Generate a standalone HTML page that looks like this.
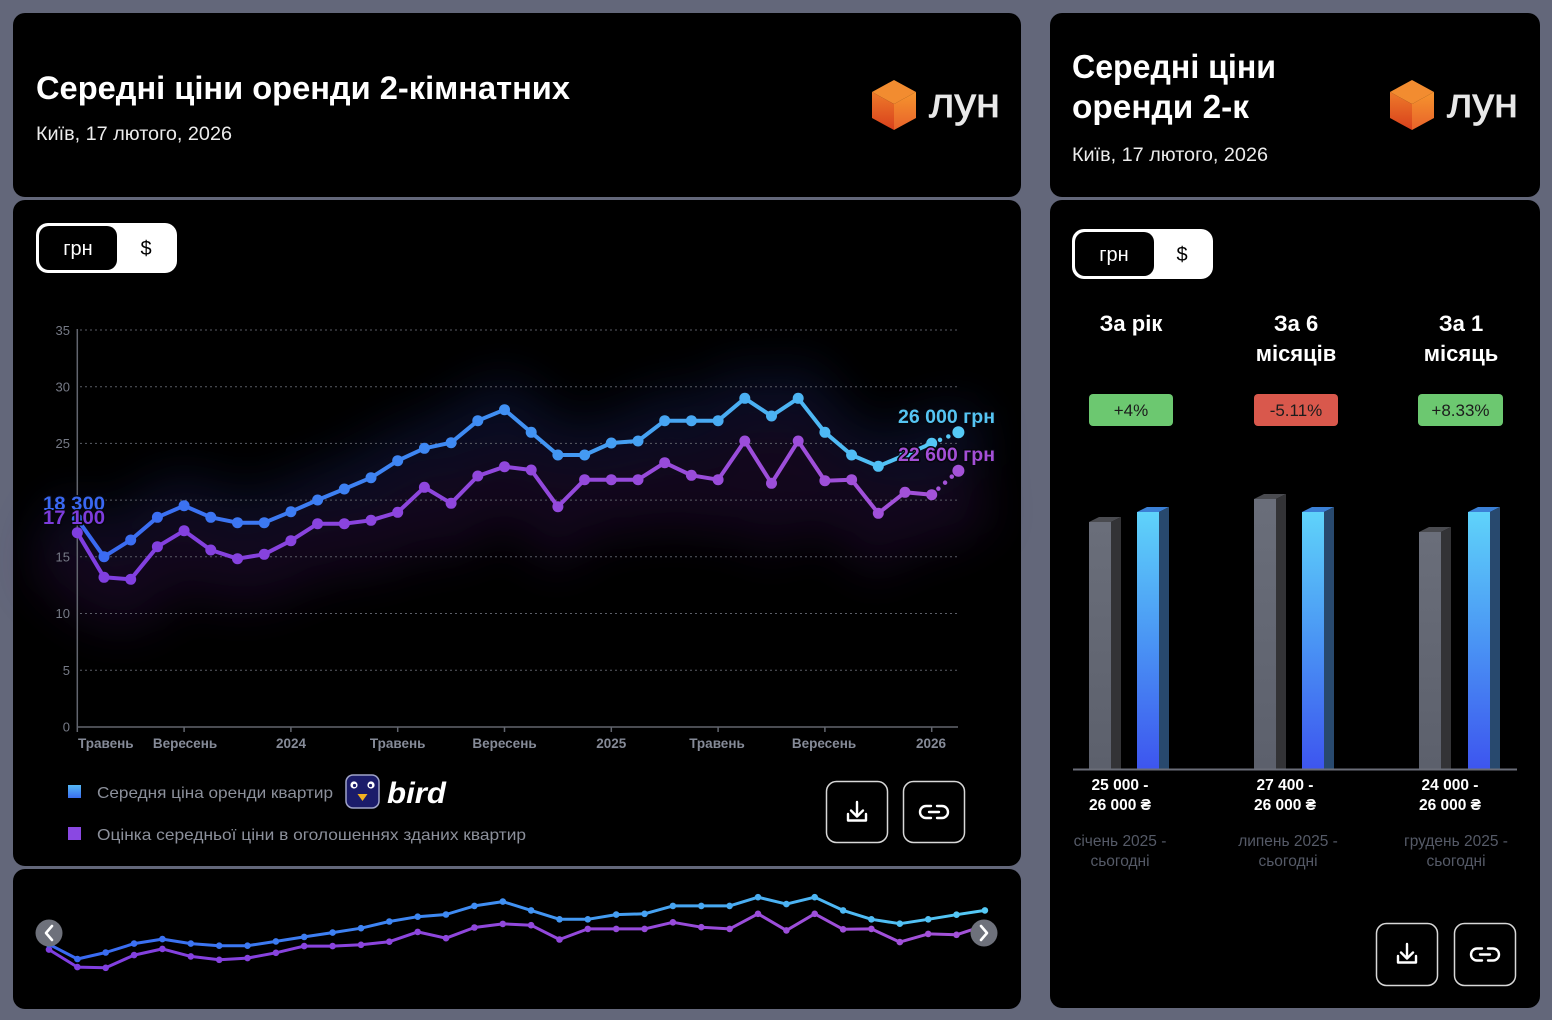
<!DOCTYPE html>
<html><head><meta charset="utf-8"><style>
html,body{margin:0;padding:0;background:#63677a;}
body{width:1552px;height:1020px;overflow:hidden;position:relative;font-family:"Liberation Sans","DejaVu Sans",sans-serif;}
svg{position:absolute;left:0;top:0;}
text{font-family:"Liberation Sans","DejaVu Sans",sans-serif;}
</style></head><body>
<svg width="1552" height="1020" viewBox="0 0 1552 1020" xmlns="http://www.w3.org/2000/svg">
<defs>
<linearGradient id="gb" gradientUnits="userSpaceOnUse" x1="77" y1="0" x2="958" y2="0">
<stop offset="0" stop-color="#3a68f2"/><stop offset="0.45" stop-color="#3f8cf3"/><stop offset="0.75" stop-color="#4aaef2"/><stop offset="1" stop-color="#55caf6"/></linearGradient>
<linearGradient id="gp" gradientUnits="userSpaceOnUse" x1="77" y1="0" x2="958" y2="0">
<stop offset="0" stop-color="#7f3ee0"/><stop offset="1" stop-color="#a452d8"/></linearGradient>
<linearGradient id="gbm" gradientUnits="userSpaceOnUse" x1="49" y1="0" x2="985" y2="0">
<stop offset="0" stop-color="#3a68f2"/><stop offset="0.45" stop-color="#3f8cf3"/><stop offset="0.75" stop-color="#4aaef2"/><stop offset="1" stop-color="#55caf6"/></linearGradient>
<linearGradient id="gpm" gradientUnits="userSpaceOnUse" x1="49" y1="0" x2="985" y2="0">
<stop offset="0" stop-color="#7f3ee0"/><stop offset="1" stop-color="#a452d8"/></linearGradient>
<linearGradient id="barB" x1="0" y1="0" x2="0" y2="1"><stop offset="0" stop-color="#5fd3fa"/><stop offset="0.5" stop-color="#4a95f4"/><stop offset="1" stop-color="#3d55ef"/></linearGradient>
<linearGradient id="barG" x1="0" y1="0" x2="0" y2="1"><stop offset="0" stop-color="#6a6e7a"/><stop offset="1" stop-color="#5c606c"/></linearGradient>
<linearGradient id="legB" x1="0" y1="0" x2="0" y2="1"><stop offset="0" stop-color="#55b8f5"/><stop offset="1" stop-color="#3a6ef0"/></linearGradient>
<linearGradient id="cubeL" x1="0" y1="0" x2="0" y2="1"><stop offset="0" stop-color="#ee7a2a"/><stop offset="1" stop-color="#d8401c"/></linearGradient>
<linearGradient id="cubeR" x1="0" y1="0" x2="0" y2="1"><stop offset="0" stop-color="#f6952e"/><stop offset="1" stop-color="#e8622a"/></linearGradient>
<filter id="blur" x="-20%" y="-100%" width="140%" height="300%"><feGaussianBlur stdDeviation="24"/></filter>
</defs>

<!-- panels -->
<rect x="13" y="13" width="1008" height="184" rx="12" fill="#000"/>
<rect x="13" y="200" width="1008" height="666" rx="12" fill="#000"/>
<rect x="13" y="869" width="1008" height="140" rx="12" fill="#000"/>
<rect x="1050" y="13" width="490" height="184" rx="12" fill="#000"/>
<rect x="1050" y="200" width="490" height="808" rx="12" fill="#000"/>

<!-- left header -->
<text x="36" y="99" font-size="32" font-weight="bold" fill="#fff" textLength="534" lengthAdjust="spacingAndGlyphs">Середні ціни оренди 2-кімнатних</text>
<text x="36" y="140" font-size="19" fill="#ececec" textLength="196" lengthAdjust="spacingAndGlyphs">Київ, 17 лютого, 2026</text>
<g>
<polygon points="894,80 916,92 894,104 872,92" fill="#f28c30"/>
<polygon points="872,92 894,104 894,130 872,118" fill="url(#cubeL)"/>
<polygon points="894,104 916,92 916,118 894,130" fill="url(#cubeR)"/>
</g>
<text x="929" y="117" font-size="42" fill="#e8e8e8" stroke="#e8e8e8" stroke-width="0.8" textLength="71" lengthAdjust="spacingAndGlyphs">лун</text>

<!-- right header -->
<text x="1072" y="78" font-size="33" font-weight="bold" fill="#fff" textLength="204" lengthAdjust="spacingAndGlyphs">Середні ціни</text>
<text x="1072" y="118" font-size="33" font-weight="bold" fill="#fff" textLength="177" lengthAdjust="spacingAndGlyphs">оренди 2-к</text>
<text x="1072" y="161" font-size="19" fill="#ececec" textLength="196" lengthAdjust="spacingAndGlyphs">Київ, 17 лютого, 2026</text>
<g>
<polygon points="1412,80 1434,92 1412,104 1390,92" fill="#f28c30"/>
<polygon points="1390,92 1412,104 1412,130 1390,118" fill="url(#cubeL)"/>
<polygon points="1412,104 1434,92 1434,118 1412,130" fill="url(#cubeR)"/>
</g>
<text x="1447" y="117" font-size="42" fill="#e8e8e8" stroke="#e8e8e8" stroke-width="0.8" textLength="71" lengthAdjust="spacingAndGlyphs">лун</text>

<!-- toggles -->
<rect x="36" y="223" width="141" height="50" rx="12" fill="#fff"/>
<rect x="39" y="226" width="78" height="44" rx="10" fill="#000"/>
<text x="78" y="255" font-size="20" fill="#fff" text-anchor="middle">грн</text>
<text x="146" y="255" font-size="20" fill="#000" text-anchor="middle">$</text>
<rect x="1072" y="229" width="141" height="50" rx="12" fill="#fff"/>
<rect x="1075" y="232" width="79" height="44" rx="10" fill="#000"/>
<text x="1114" y="261" font-size="20" fill="#fff" text-anchor="middle">грн</text>
<text x="1182" y="261" font-size="20" fill="#000" text-anchor="middle">$</text>

<!-- glow -->
<g filter="url(#blur)" fill="none" opacity="0.32">
<polyline stroke="#1c2a70" stroke-width="60" points="50,519 104,556.7 130.7,540 157.4,517.3 184.1,505.7 210.8,517.3 237.5,522.7 264.2,522.7 290.9,511.7 317.6,500 344.3,489 371,477.7 397.7,460.7 424.4,448.3 451.1,442.7 477.8,420.7 504.5,409.7 531.2,432.3 557.9,455 584.6,455 611.3,443 638,441 664.7,420.7 691.4,420.7 718.1,420.7 744.8,398.3 771.5,416 798.2,398.3 824.9,432.3 851.6,455 878.3,466.3 905,455 931.7,443.3 980,432"/>
<polyline stroke="#3a1458" stroke-width="70" points="50,545 104,590 130.7,592 157.4,560 184.1,545 210.8,562 237.5,570 264.2,566 290.9,555 317.6,540 344.3,540 371,536 397.7,528 424.4,505 451.1,518 477.8,495 504.5,486 531.2,490 557.9,522 584.6,498 611.3,498 638,498 664.7,482 691.4,494 718.1,498 744.8,465 771.5,502 798.2,465 824.9,500 851.6,498 878.3,530 905,510 931.7,512 980,490"/>
</g>

<!-- grid -->
<g stroke="#5a5d66" stroke-width="1" stroke-dasharray="2 3">
<line x1="80" y1="330" x2="957" y2="330"/>
<line x1="80" y1="386.7" x2="957" y2="386.7"/>
<line x1="80" y1="443.4" x2="957" y2="443.4"/>
<line x1="80" y1="500.1" x2="957" y2="500.1"/>
<line x1="80" y1="556.8" x2="957" y2="556.8"/>
<line x1="80" y1="613.5" x2="957" y2="613.5"/>
<line x1="80" y1="670.2" x2="957" y2="670.2"/>
</g>
<line x1="77.3" y1="329" x2="77.3" y2="727" stroke="#62656e" stroke-width="1.5"/>
<line x1="77" y1="727" x2="958" y2="727" stroke="#62656e" stroke-width="1.5"/>
<g stroke="#62656e" stroke-width="1.5">
<line x1="77.3" y1="727" x2="77.3" y2="732"/><line x1="184.1" y1="727" x2="184.1" y2="732"/><line x1="290.9" y1="727" x2="290.9" y2="732"/><line x1="397.7" y1="727" x2="397.7" y2="732"/><line x1="504.5" y1="727" x2="504.5" y2="732"/><line x1="611.3" y1="727" x2="611.3" y2="732"/><line x1="718.1" y1="727" x2="718.1" y2="732"/><line x1="824.9" y1="727" x2="824.9" y2="732"/><line x1="931.7" y1="727" x2="931.7" y2="732"/>
</g>
<g font-size="13" fill="#767a86" text-anchor="end">
<text x="70" y="335">35</text><text x="70" y="391.5">30</text><text x="70" y="448">25</text><text x="70" y="561.5">15</text><text x="70" y="618">10</text><text x="70" y="675">5</text><text x="70" y="731.5">0</text>
</g>
<g font-size="13.5" font-weight="bold" fill="#858a97" text-anchor="middle">
<text x="78" y="748" text-anchor="start">Травень</text>
<text x="185" y="748">Вересень</text>
<text x="291" y="748">2024</text>
<text x="397.7" y="748">Травень</text>
<text x="504.5" y="748">Вересень</text>
<text x="611.3" y="748">2025</text>
<text x="717" y="748">Травень</text>
<text x="824" y="748">Вересень</text>
<text x="931" y="748">2026</text>
</g>

<!-- main lines -->
<g fill="none" stroke-width="4" stroke-linejoin="round" stroke-linecap="round">
<polyline stroke="url(#gp)" points="77.3,532.7 104,577.3 130.7,579.3 157.4,546.7 184.1,530.7 210.8,550 237.5,558.7 264.2,554.3 290.9,540.7 317.6,523.7 344.3,523.7 371,520.3 397.7,512.3 424.4,487.3 451.1,503.3 477.8,476 504.5,466.7 531.2,470 557.9,506.7 584.6,479.7 611.3,479.7 638,479.7 664.7,462.7 691.4,475.3 718.1,479.7 744.8,441 771.5,483.3 798.2,441 824.9,480.7 851.6,479.7 878.3,513.3 905,492.3 931.7,494.7"/>
<polyline stroke="url(#gb)" points="77.3,519.1 104,556.7 130.7,540 157.4,517.3 184.1,505.7 210.8,517.3 237.5,522.7 264.2,522.7 290.9,511.7 317.6,500 344.3,489 371,477.7 397.7,460.7 424.4,448.3 451.1,442.7 477.8,420.7 504.5,409.7 531.2,432.3 557.9,455 584.6,455 611.3,443 638,441 664.7,420.7 691.4,420.7 718.1,420.7 744.8,398.3 771.5,416 798.2,398.3 824.9,432.3 851.6,455 878.3,466.3 905,455 931.7,443.3"/>
<line x1="931.7" y1="494.7" x2="958.4" y2="470.7" stroke="url(#gp)" stroke-width="4.5" stroke-dasharray="0 9"/>
<line x1="931.7" y1="443.3" x2="958.4" y2="432.3" stroke="url(#gb)" stroke-width="4.5" stroke-dasharray="0 9"/>
</g>
<g fill="url(#gp)">
<circle cx="77.3" cy="532.7" r="5.5"/><circle cx="104" cy="577.3" r="5.5"/><circle cx="130.7" cy="579.3" r="5.5"/><circle cx="157.4" cy="546.7" r="5.5"/><circle cx="184.1" cy="530.7" r="5.5"/><circle cx="210.8" cy="550" r="5.5"/><circle cx="237.5" cy="558.7" r="5.5"/><circle cx="264.2" cy="554.3" r="5.5"/><circle cx="290.9" cy="540.7" r="5.5"/><circle cx="317.6" cy="523.7" r="5.5"/><circle cx="344.3" cy="523.7" r="5.5"/><circle cx="371" cy="520.3" r="5.5"/><circle cx="397.7" cy="512.3" r="5.5"/><circle cx="424.4" cy="487.3" r="5.5"/><circle cx="451.1" cy="503.3" r="5.5"/><circle cx="477.8" cy="476" r="5.5"/><circle cx="504.5" cy="466.7" r="5.5"/><circle cx="531.2" cy="470" r="5.5"/><circle cx="557.9" cy="506.7" r="5.5"/><circle cx="584.6" cy="479.7" r="5.5"/><circle cx="611.3" cy="479.7" r="5.5"/><circle cx="638" cy="479.7" r="5.5"/><circle cx="664.7" cy="462.7" r="5.5"/><circle cx="691.4" cy="475.3" r="5.5"/><circle cx="718.1" cy="479.7" r="5.5"/><circle cx="744.8" cy="441" r="5.5"/><circle cx="771.5" cy="483.3" r="5.5"/><circle cx="798.2" cy="441" r="5.5"/><circle cx="824.9" cy="480.7" r="5.5"/><circle cx="851.6" cy="479.7" r="5.5"/><circle cx="878.3" cy="513.3" r="5.5"/><circle cx="905" cy="492.3" r="5.5"/><circle cx="931.7" cy="494.7" r="5.5"/><circle cx="958.4" cy="470.7" r="6"/>
</g>
<g fill="url(#gb)">
<circle cx="77.3" cy="519.1" r="5.5"/><circle cx="104" cy="556.7" r="5.5"/><circle cx="130.7" cy="540" r="5.5"/><circle cx="157.4" cy="517.3" r="5.5"/><circle cx="184.1" cy="505.7" r="5.5"/><circle cx="210.8" cy="517.3" r="5.5"/><circle cx="237.5" cy="522.7" r="5.5"/><circle cx="264.2" cy="522.7" r="5.5"/><circle cx="290.9" cy="511.7" r="5.5"/><circle cx="317.6" cy="500" r="5.5"/><circle cx="344.3" cy="489" r="5.5"/><circle cx="371" cy="477.7" r="5.5"/><circle cx="397.7" cy="460.7" r="5.5"/><circle cx="424.4" cy="448.3" r="5.5"/><circle cx="451.1" cy="442.7" r="5.5"/><circle cx="477.8" cy="420.7" r="5.5"/><circle cx="504.5" cy="409.7" r="5.5"/><circle cx="531.2" cy="432.3" r="5.5"/><circle cx="557.9" cy="455" r="5.5"/><circle cx="584.6" cy="455" r="5.5"/><circle cx="611.3" cy="443" r="5.5"/><circle cx="638" cy="441" r="5.5"/><circle cx="664.7" cy="420.7" r="5.5"/><circle cx="691.4" cy="420.7" r="5.5"/><circle cx="718.1" cy="420.7" r="5.5"/><circle cx="744.8" cy="398.3" r="5.5"/><circle cx="771.5" cy="416" r="5.5"/><circle cx="798.2" cy="398.3" r="5.5"/><circle cx="824.9" cy="432.3" r="5.5"/><circle cx="851.6" cy="455" r="5.5"/><circle cx="878.3" cy="466.3" r="5.5"/><circle cx="905" cy="455" r="5.5"/><circle cx="931.7" cy="443.3" r="5.5"/><circle cx="958.4" cy="432.3" r="6"/>
</g>

<!-- value labels -->
<g font-size="19" font-weight="bold" stroke="#05060d" stroke-width="3" paint-order="stroke" stroke-linejoin="round">
<text x="43" y="510" fill="#3a68f2" textLength="62" lengthAdjust="spacingAndGlyphs">18 300</text>
<text x="43" y="524" fill="#7d3cdc" textLength="62" lengthAdjust="spacingAndGlyphs">17 100</text>
<text x="898" y="423" fill="#55c4f2" textLength="97" lengthAdjust="spacingAndGlyphs">26 000 грн</text>
<text x="898" y="461" fill="#a44fd6" textLength="97" lengthAdjust="spacingAndGlyphs">22 600 грн</text>
</g>

<!-- legend -->
<rect x="68" y="785" width="13" height="13" fill="url(#legB)"/>
<text x="97" y="798" font-size="16" fill="#8c909b" textLength="236" lengthAdjust="spacingAndGlyphs">Середня ціна оренди квартир</text>
<rect x="68" y="827" width="13" height="13" fill="#8a48e2"/>
<text x="97" y="840" font-size="16" fill="#8c909b" textLength="429" lengthAdjust="spacingAndGlyphs">Оцінка середньої ціни в оголошеннях зданих квартир</text>
<rect x="346" y="775" width="33" height="33" rx="7" fill="#1b1c6a" stroke="#a0a4c8" stroke-width="1.5"/>
<circle cx="354" cy="785" r="3.6" fill="#fff"/><circle cx="371" cy="785" r="3.6" fill="#fff"/>
<circle cx="354.5" cy="785.5" r="1.6" fill="#1b1c6a"/><circle cx="370.5" cy="785.5" r="1.6" fill="#1b1c6a"/>
<polygon points="357.5,794 367.5,794 362.5,801" fill="#f2b220"/>
<text x="387" y="803" font-size="30" font-weight="bold" font-style="italic" fill="#fff" textLength="59" lengthAdjust="spacingAndGlyphs">bird</text>

<!-- buttons -->
<g fill="none" stroke="#d8d8d8" stroke-width="1.5">
<rect x="826.5" y="781.5" width="61" height="61" rx="10"/>
<rect x="903.5" y="781.5" width="61" height="61" rx="10"/>
<rect x="1376.5" y="923.5" width="61" height="62" rx="10"/>
<rect x="1454.5" y="923.5" width="61" height="62" rx="10"/>
</g>
<g fill="none" stroke="#fff" stroke-width="2.4" stroke-linecap="round" stroke-linejoin="round">
<path d="M857,802 V816 M851,810.5 L857,816.5 L863,810.5 M848,814 V820.5 H866 V814"/>
<path d="M931,806 h-5 a6,6 0 0 0 0,12 h5 M937,806 h5 a6,6 0 0 1 0,12 h-5 M929,812 h10"/>
<path d="M1407,944 V958 M1401,952.5 L1407,958.5 L1413,952.5 M1398,956 V962.5 H1416 V956"/>
<path d="M1482,948.5 h-5 a6,6 0 0 0 0,12 h5 M1488,948.5 h5 a6,6 0 0 1 0,12 h-5 M1480,954.5 h10"/>
</g>

<!-- mini chart -->
<g fill="none" stroke-width="3" stroke-linejoin="round">
<polyline stroke="url(#gpm)" points="49,949.6 77.4,967.1 105.7,967.8 134.1,955.1 162.4,948.9 190.8,956.4 219.2,959.8 247.5,958.1 275.9,952.8 304.2,946.1 332.6,946.1 361,944.8 389.3,941.7 417.7,931.9 446,938.2 474.4,927.5 502.8,923.9 531.1,925.2 559.5,939.5 587.8,928.9 616.2,928.9 644.6,928.9 672.9,922.3 701.3,927.2 729.6,928.9 758,913.8 786.4,930.4 814.7,913.8 843.1,929.3 871.4,928.9 899.8,942.1 928.2,933.9 956.5,934.8 984.9,925.4"/>
<polyline stroke="url(#gbm)" points="49,944.3 77.4,959 105.7,952.5 134.1,943.6 162.4,939.1 190.8,943.6 219.2,945.7 247.5,945.7 275.9,941.4 304.2,936.9 332.6,932.6 361,928.2 389.3,921.5 417.7,916.7 446,914.5 474.4,905.9 502.8,901.6 531.1,910.4 559.5,919.3 587.8,919.3 616.2,914.6 644.6,913.8 672.9,905.9 701.3,905.9 729.6,905.9 758,897.2 786.4,904.1 814.7,897.2 843.1,910.4 871.4,919.3 899.8,923.7 928.2,919.3 956.5,914.7 984.9,910.4"/>
</g>
<g fill="url(#gpm)">
<circle cx="49" cy="949.6" r="3.3"/><circle cx="77.4" cy="967.1" r="3.3"/><circle cx="105.7" cy="967.8" r="3.3"/><circle cx="134.1" cy="955.1" r="3.3"/><circle cx="162.4" cy="948.9" r="3.3"/><circle cx="190.8" cy="956.4" r="3.3"/><circle cx="219.2" cy="959.8" r="3.3"/><circle cx="247.5" cy="958.1" r="3.3"/><circle cx="275.9" cy="952.8" r="3.3"/><circle cx="304.2" cy="946.1" r="3.3"/><circle cx="332.6" cy="946.1" r="3.3"/><circle cx="361" cy="944.8" r="3.3"/><circle cx="389.3" cy="941.7" r="3.3"/><circle cx="417.7" cy="931.9" r="3.3"/><circle cx="446" cy="938.2" r="3.3"/><circle cx="474.4" cy="927.5" r="3.3"/><circle cx="502.8" cy="923.9" r="3.3"/><circle cx="531.1" cy="925.2" r="3.3"/><circle cx="559.5" cy="939.5" r="3.3"/><circle cx="587.8" cy="928.9" r="3.3"/><circle cx="616.2" cy="928.9" r="3.3"/><circle cx="644.6" cy="928.9" r="3.3"/><circle cx="672.9" cy="922.3" r="3.3"/><circle cx="701.3" cy="927.2" r="3.3"/><circle cx="729.6" cy="928.9" r="3.3"/><circle cx="758" cy="913.8" r="3.3"/><circle cx="786.4" cy="930.4" r="3.3"/><circle cx="814.7" cy="913.8" r="3.3"/><circle cx="843.1" cy="929.3" r="3.3"/><circle cx="871.4" cy="928.9" r="3.3"/><circle cx="899.8" cy="942.1" r="3.3"/><circle cx="928.2" cy="933.9" r="3.3"/><circle cx="956.5" cy="934.8" r="3.3"/><circle cx="984.9" cy="925.4" r="3.3"/>
</g>
<g fill="url(#gbm)">
<circle cx="49" cy="944.3" r="3.3"/><circle cx="77.4" cy="959" r="3.3"/><circle cx="105.7" cy="952.5" r="3.3"/><circle cx="134.1" cy="943.6" r="3.3"/><circle cx="162.4" cy="939.1" r="3.3"/><circle cx="190.8" cy="943.6" r="3.3"/><circle cx="219.2" cy="945.7" r="3.3"/><circle cx="247.5" cy="945.7" r="3.3"/><circle cx="275.9" cy="941.4" r="3.3"/><circle cx="304.2" cy="936.9" r="3.3"/><circle cx="332.6" cy="932.6" r="3.3"/><circle cx="361" cy="928.2" r="3.3"/><circle cx="389.3" cy="921.5" r="3.3"/><circle cx="417.7" cy="916.7" r="3.3"/><circle cx="446" cy="914.5" r="3.3"/><circle cx="474.4" cy="905.9" r="3.3"/><circle cx="502.8" cy="901.6" r="3.3"/><circle cx="531.1" cy="910.4" r="3.3"/><circle cx="559.5" cy="919.3" r="3.3"/><circle cx="587.8" cy="919.3" r="3.3"/><circle cx="616.2" cy="914.6" r="3.3"/><circle cx="644.6" cy="913.8" r="3.3"/><circle cx="672.9" cy="905.9" r="3.3"/><circle cx="701.3" cy="905.9" r="3.3"/><circle cx="729.6" cy="905.9" r="3.3"/><circle cx="758" cy="897.2" r="3.3"/><circle cx="786.4" cy="904.1" r="3.3"/><circle cx="814.7" cy="897.2" r="3.3"/><circle cx="843.1" cy="910.4" r="3.3"/><circle cx="871.4" cy="919.3" r="3.3"/><circle cx="899.8" cy="923.7" r="3.3"/><circle cx="928.2" cy="919.3" r="3.3"/><circle cx="956.5" cy="914.7" r="3.3"/><circle cx="984.9" cy="910.4" r="3.3"/>
</g>
<circle cx="49" cy="933" r="13.5" fill="#6e717b"/>
<circle cx="984" cy="933" r="13.5" fill="#6e717b"/>
<g fill="none" stroke="#fff" stroke-width="2.6" stroke-linecap="round" stroke-linejoin="round">
<path d="M52,926 L46,933 L52,940"/>
<path d="M981,926 L987,933 L981,940"/>
</g>

<!-- right stats -->
<g font-size="22" font-weight="bold" fill="#fff" text-anchor="middle">
<text x="1131" y="331">За рік</text>
<text x="1296" y="331">За 6</text>
<text x="1296" y="361">місяців</text>
<text x="1461" y="331">За 1</text>
<text x="1461" y="361">місяць</text>
</g>
<rect x="1089" y="394" width="84" height="32" rx="4" fill="#6cc870"/>
<rect x="1254" y="394" width="84" height="32" rx="4" fill="#d9584c"/>
<rect x="1418" y="394" width="85" height="32" rx="4" fill="#6cc870"/>
<g font-size="17" fill="#1c1c1c" text-anchor="middle">
<text x="1131" y="416">+4%</text>
<text x="1296" y="416">-5.11%</text>
<text x="1460.5" y="416">+8.33%</text>
</g>

<!-- bars -->
<g>
<polygon points="1089,522 1099,517 1121,517 1111,522" fill="#4a4b50"/>
<rect x="1089" y="522" width="22" height="247" fill="url(#barG)"/>
<polygon points="1111,522 1121,517 1121,769 1111,769" fill="#333336"/>
<polygon points="1137,512 1147,507 1169,507 1159,512" fill="#3b80d6"/>
<rect x="1137" y="512" width="22" height="257" fill="url(#barB)"/>
<polygon points="1159,512 1169,507 1169,769 1159,769" fill="#28496e"/>

<polygon points="1254,499 1264,494 1286,494 1276,499" fill="#4a4b50"/>
<rect x="1254" y="499" width="22" height="270" fill="url(#barG)"/>
<polygon points="1276,499 1286,494 1286,769 1276,769" fill="#333336"/>
<polygon points="1302,512 1312,507 1334,507 1324,512" fill="#3b80d6"/>
<rect x="1302" y="512" width="22" height="257" fill="url(#barB)"/>
<polygon points="1324,512 1334,507 1334,769 1324,769" fill="#28496e"/>

<polygon points="1419,532 1429,527 1451,527 1441,532" fill="#4a4b50"/>
<rect x="1419" y="532" width="22" height="237" fill="url(#barG)"/>
<polygon points="1441,532 1451,527 1451,769 1441,769" fill="#333336"/>
<polygon points="1468,512 1478,507 1500,507 1490,512" fill="#3b80d6"/>
<rect x="1468" y="512" width="22" height="257" fill="url(#barB)"/>
<polygon points="1490,512 1500,507 1500,769 1490,769" fill="#28496e"/>
</g>
<line x1="1073" y1="769.5" x2="1517" y2="769.5" stroke="#6a6d78" stroke-width="2"/>
<g font-size="15.5" font-weight="bold" fill="#fff" text-anchor="middle">
<text x="1120" y="790">25 000 -</text><text x="1120" y="810">26 000 ₴</text>
<text x="1285" y="790">27 400 -</text><text x="1285" y="810">26 000 ₴</text>
<text x="1450" y="790">24 000 -</text><text x="1450" y="810">26 000 ₴</text>
</g>
<g font-size="15.5" fill="#555a67" text-anchor="middle">
<text x="1120" y="846">січень 2025 -</text><text x="1120" y="866">сьогодні</text>
<text x="1288" y="846">липень 2025 -</text><text x="1288" y="866">сьогодні</text>
<text x="1456" y="846">грудень 2025 -</text><text x="1456" y="866">сьогодні</text>
</g>
</svg>
</body></html>
